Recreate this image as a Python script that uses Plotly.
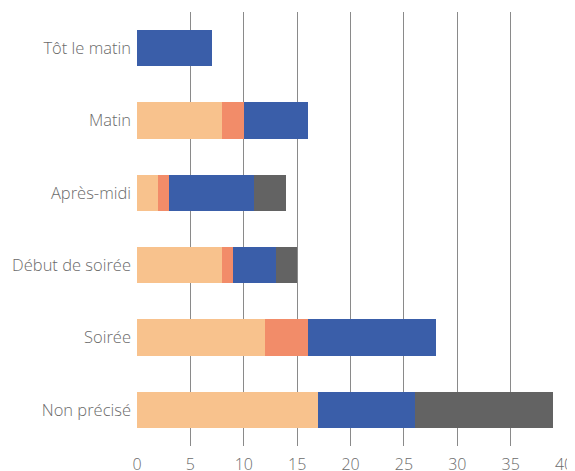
import plotly.graph_objects as go

categories = ["Tôt le matin", "Matin", "Après-midi", "Début de soirée", "Soirée", "Non précisé"]

serie_1 = [0, 8, 2, 8, 12, 17]
serie_2 = [0, 2, 1, 1, 4, 0]
serie_3 = [7, 6, 8, 4, 12, 9]
serie_4 = [0, 0, 3, 2, 0, 13]

x_ticks = [0, 5, 10, 15, 20, 25, 30, 35, 40]

colors = ["#F8C28D", "#F28C69", "#3A5EA9", "#636363"]

fig = go.Figure()
for vals, col in zip([serie_1, serie_2, serie_3, serie_4], colors):
    fig.add_trace(
        go.Bar(
            y=categories,
            x=vals,
            orientation="h",
            marker_color=col,
            marker_line_width=0,
            showlegend=False,
        )
    )

# the page body has an 8px margin, so the figure is shrunk by that much
fig.update_layout(
    width=567,
    height=463,
    barmode="stack",
    bargap=0.5,
    plot_bgcolor="white",
    paper_bgcolor="white",
    margin=dict(l=129, r=11, t=4, b=25),
    font=dict(family="Open Sans", size=16, color="#6b6b6b", weight=300),
    xaxis=dict(
        range=[0, 40],
        tickvals=x_ticks,
        showgrid=True,
        gridcolor="#8a8a8a",
        gridwidth=1,
        zeroline=False,
        ticks="",
        ticklabelstandoff=7,
        tickfont=dict(size=16, weight=300),
        showline=False,
        automargin=False,
        layer="below traces",
    ),
    yaxis=dict(
        autorange="reversed",
        showgrid=False,
        ticks="",
        ticklabelstandoff=5,
        tickfont=dict(size=16.5, weight=300),
        automargin=False,
    ),
)

fig.write_html("out.html")
